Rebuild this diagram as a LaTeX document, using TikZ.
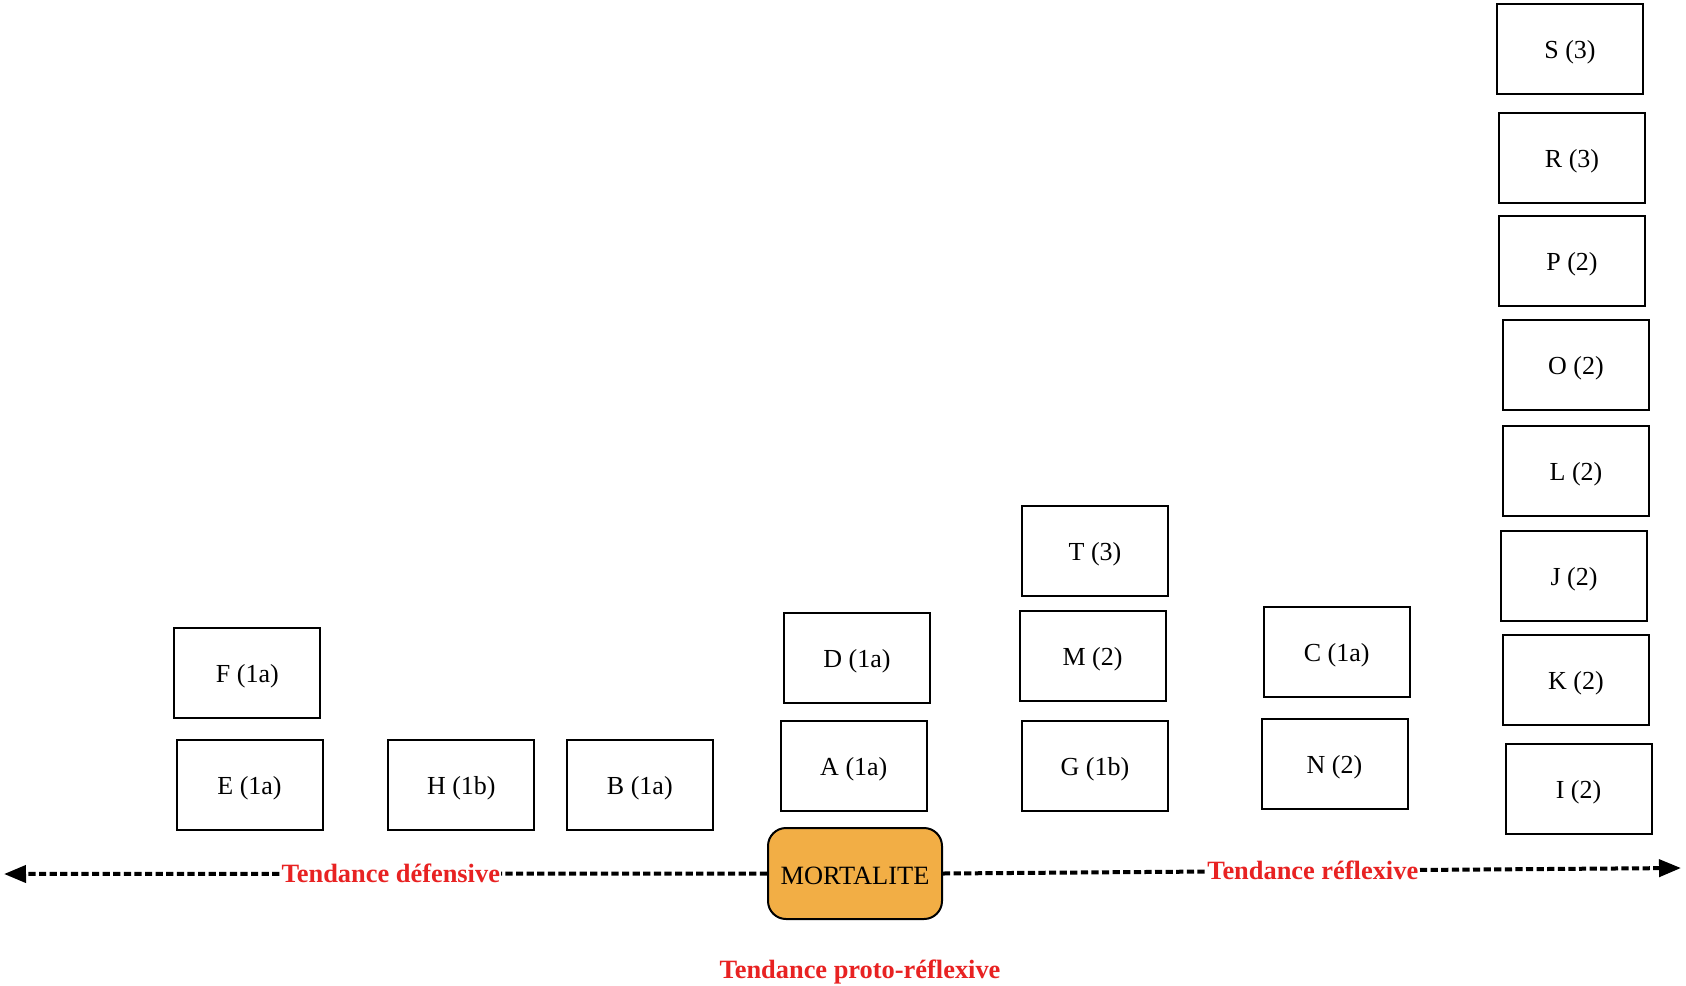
\documentclass[tikz,border=0pt]{standalone}
\usepackage{fontspec}
\setmainfont{Liberation Serif}
\usetikzlibrary{arrows.meta}
\definecolor{mortfill}{RGB}{242,174,69}
\definecolor{tendred}{RGB}{232,34,34}
\begin{document}
\begin{tikzpicture}[x=0.5pt,y=-0.5pt,
  groupbox/.style={draw=black,line width=1pt,minimum width=73pt,minimum height=45pt,
    inner sep=0pt,text height=11.8pt,text depth=2pt,
    font=\fontsize{13pt}{15pt}\selectfont},
  mortbox/.style={draw=black,line width=1pt,fill=mortfill,rounded corners=9pt,
    minimum width=87pt,minimum height=45.5pt,inner sep=0pt,
    text height=10.5pt,text depth=0pt,font=\fontsize{13.2pt}{15pt}\selectfont},
  axisline/.style={line width=2pt,dash pattern=on 3.6pt off 1.7pt,
    -{Triangle[length=11pt,width=8.5pt]}},
  tendlabel/.style={text=tendred,font=\fontsize{13.2pt}{15pt}\selectfont\bfseries,
    fill=white,inner sep=0.5pt}]
\useasboundingbox (0,0) rectangle (1686,985);

% column of the right-hand groups
\node[groupbox] (S) at (1570,48.5) {S (3)};
\node[groupbox] (R) at (1572,158) {R (3)};
\node[groupbox] (P) at (1572,261) {P (2)};
\node[groupbox] (O) at (1576,364.5) {O (2)};
\node[groupbox] (L) at (1576,471) {L (2)};
\node[groupbox] (J) at (1574,576) {J (2)};
\node[groupbox] (K) at (1576,680) {K (2)};
\node[groupbox] (I) at (1578.5,789) {I (2)};

% middle-right stacks
\node[groupbox] (T) at (1095,550.5) {T (3)};
\node[groupbox] (M) at (1092.5,656) {M (2)};
\node[groupbox] (G) at (1095,765.6) {G (1b)};
\node[groupbox] (C) at (1336.6,651.6) {C (1a)};
\node[groupbox] (N) at (1334.5,763.5) {N (2)};

% centre stack
\node[groupbox] (D) at (857,658) {D (1a)};
\node[groupbox] (A) at (853.8,765.6) {A (1a)};

% left-hand groups
\node[groupbox] (F) at (247.3,673) {F (1a)};
\node[groupbox] (E) at (249.5,785) {E (1a)};
\node[groupbox] (H) at (461.3,785) {H (1b)};
\node[groupbox] (B) at (639.8,785) {B (1a)};

% axis
\node[mortbox] (mort) at (855,873.5) {MORTALITE};
\coordinate (leftend) at (4,874);
\coordinate (rightend) at (1681,868);
\draw[axisline] (mort.west) -- (leftend)
  node[tendlabel,pos=0.493] (defl) {Tendance défensive};
\draw[axisline] (mort.east) -- (rightend)
  node[tendlabel,pos=0.501] (refl) {Tendance réflexive};
\node[tendlabel] (proto) at (860,972) {Tendance proto-réflexive};
\end{tikzpicture}
\end{document}
